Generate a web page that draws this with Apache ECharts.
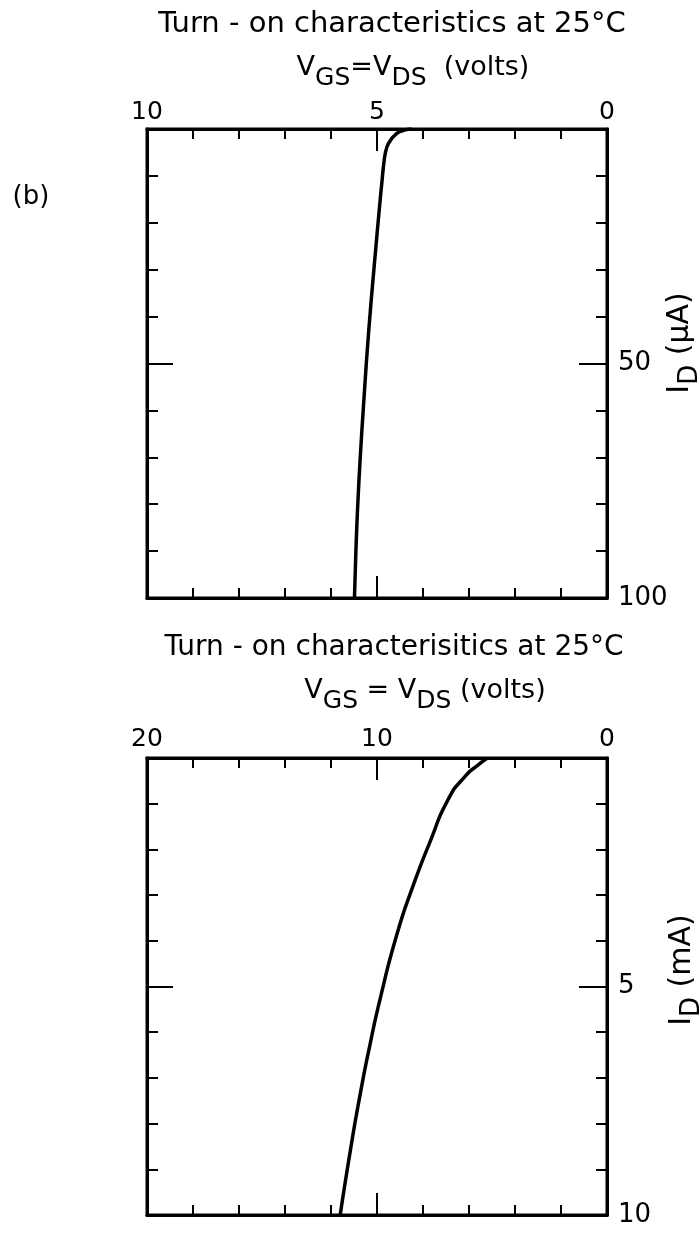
<!DOCTYPE html>
<html><head><meta charset="utf-8">
<script src="https://cdn.jsdelivr.net/npm/echarts@6/dist/echarts.min.js"></script>
<style>html,body{margin:0;padding:0;background:#fff}#c{width:700px;height:1233px}</style>
</head><body><div id="c"></div>
<script>
// ---- data ----
const upperV = [4.24, 4.38, 4.57, 4.75, 4.82, 4.86, 4.89, 4.93, 5.05, 5.18, 5.28, 5.37, 5.44, 5.49];
const upperI = [0, 0.2, 0.92, 3.05, 5.2, 8, 11, 15, 28, 43, 57, 71, 85, 100];
const lowerV = [5.2, 5.6, 6.17, 6.91, 7.66, 8.44, 9.13, 9.84, 10.32, 10.75, 11.13, 11.6];
const lowerI = [0, 0.15, 0.40, 0.91, 1.79, 2.81, 3.85, 5.22, 6.31, 7.41, 8.50, 10];
const upperVTicks = [0, 5, 10];
const upperITicks = [0, 50, 100];
const lowerVTicks = [0, 10, 20];
const lowerITicks = [0, 5, 10];

const FONT = 'DejaVu Sans';
const BLACK = '#000';

function mkX(gi, ticks, pos, showLabel, margin) {
  return {
    type: 'value', gridIndex: gi, position: pos, inverse: true,
    min: ticks[0], max: ticks[ticks.length - 1], interval: ticks[1] - ticks[0],
    axisLine: { show: true, onZero: false, lineStyle: { color: BLACK, width: 3 } },
    axisTick: { show: true, inside: true, length: 22, lineStyle: { color: BLACK, width: 2 } },
    minorTick: { show: true, splitNumber: 5, length: 10, lineStyle: { color: BLACK, width: 2 } },
    axisLabel: { show: showLabel, fontSize: 25, color: BLACK, margin: margin, fontFamily: FONT },
    splitLine: { show: false }, minorSplitLine: { show: false }
  };
}
function mkY(gi, ticks, pos, showLabel, majorLen, minorLen) {
  return {
    type: 'value', gridIndex: gi, position: pos, inverse: true,
    min: ticks[0], max: ticks[ticks.length - 1], interval: ticks[1] - ticks[0],
    axisLine: { show: true, onZero: false, lineStyle: { color: BLACK, width: 3 } },
    axisTick: { show: true, inside: true, length: majorLen, lineStyle: { color: BLACK, width: 2 } },
    minorTick: { show: true, splitNumber: 5, length: minorLen, lineStyle: { color: BLACK, width: 2 } },
    axisLabel: { show: showLabel, showMinLabel: false, fontSize: 26, color: BLACK, margin: 11, fontFamily: FONT },
    splitLine: { show: false }, minorSplitLine: { show: false }
  };
}
function txt(x, y, text, size, extra) {
  return Object.assign({
    type: 'text', x: x, y: y, silent: true,
    style: Object.assign({
      text: text, fontSize: size, fontFamily: FONT, fill: BLACK,
      align: 'center', verticalAlign: 'middle'
    }, (extra && extra.style) || {})
  }, (extra && extra.el) || {});
}
const subRich = (size, pad) => ({ s: { fontSize: size, fontFamily: FONT, fill: BLACK, padding: [pad, 0, 0, 0] } });

const chart = echarts.init(document.getElementById('c'), null, { renderer: 'canvas' });
chart.setOption({
  animation: false,
  backgroundColor: '#fff',
  grid: [
    { left: 147, top: 129, width: 460, height: 469, show: true, borderColor: BLACK, borderWidth: 3, backgroundColor: 'transparent', outerBoundsMode: 'none' },
    { left: 147, top: 758, width: 460, height: 457, show: true, borderColor: BLACK, borderWidth: 3, backgroundColor: 'transparent', outerBoundsMode: 'none' }
  ],
  xAxis: [
    mkX(0, upperVTicks, 'top', true, 4),
    mkX(0, upperVTicks, 'bottom', false, 4),
    mkX(1, lowerVTicks, 'top', true, 6),
    mkX(1, lowerVTicks, 'bottom', false, 6)
  ],
  yAxis: [
    mkY(0, upperITicks, 'right', true, 28, 11),
    mkY(0, upperITicks, 'left', false, 26, 11),
    mkY(1, lowerITicks, 'right', true, 28, 11),
    mkY(1, lowerITicks, 'left', false, 26, 11)
  ],
  series: [
    { type: 'line', xAxisIndex: 0, yAxisIndex: 0, data: upperV.map((v, i) => [v, upperI[i]]),
      smooth: 0.4, symbol: 'none', showSymbol: false, silent: true, lineStyle: { color: BLACK, width: 3.5 } },
    { type: 'line', xAxisIndex: 2, yAxisIndex: 2, data: lowerV.map((v, i) => [v, lowerI[i]]),
      smooth: 0.6, symbol: 'none', showSymbol: false, silent: true, lineStyle: { color: BLACK, width: 3.5 } }
  ],
  graphic: [
    txt(31, 197, '(b)', 26),
    txt(392, 24, 'Turn - on characteristics at 25°C', 29),
    txt(413, 68, 'V{s|GS}=V{s|DS}  (volts)', 27, { style: { rich: subRich(25, 20) } }),
    txt(394, 648, 'Turn - on characterisitics at 25°C', 28),
    txt(425, 691, 'V{s|GS} = V{s|DS} (volts)', 27, { style: { rich: subRich(25, 20) } }),
    txt(680, 343, 'I{s|D} (μA)', 30, { el: { rotation: Math.PI / 2 }, style: { rich: subRich(26, 20) } }),
    txt(682, 970, 'I{s|D} (mA)', 30, { el: { rotation: Math.PI / 2 }, style: { rich: subRich(26, 20) } })
  ]
});
</script>
</body></html>
